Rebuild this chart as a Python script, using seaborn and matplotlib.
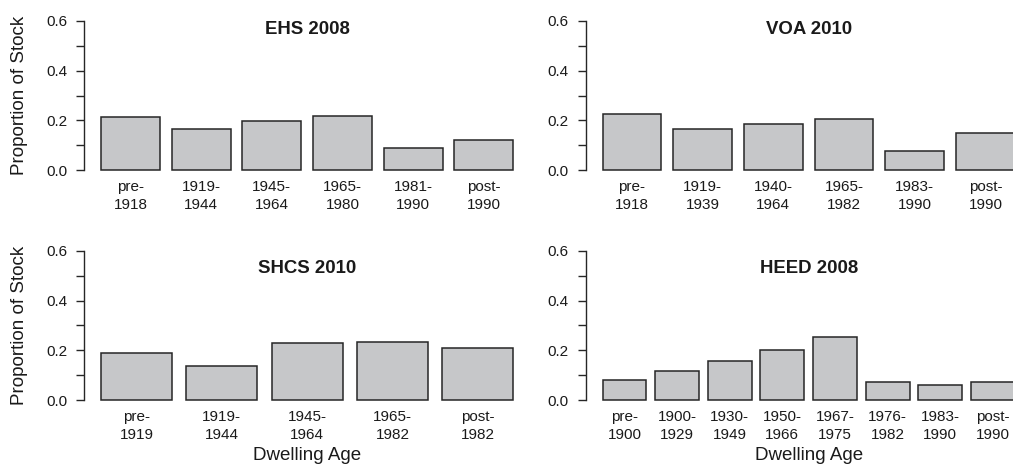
import numpy as np
import pandas as pd
import seaborn as sns
import matplotlib
matplotlib.use("Agg")
import matplotlib.pyplot as plt

# data
ehs_labels = ["pre-\n1918", "1919-\n1944", "1945-\n1964", "1965-\n1980", "1981-\n1990", "post-\n1990"]
ehs_values = [0.215, 0.165, 0.197, 0.217, 0.090, 0.122]

voa_labels = ["pre-\n1918", "1919-\n1939", "1940-\n1964", "1965-\n1982", "1983-\n1990", "post-\n1990"]
voa_values = [0.225, 0.165, 0.184, 0.207, 0.078, 0.149]

shcs_labels = ["pre-\n1919", "1919-\n1944", "1945-\n1964", "1965-\n1982", "post-\n1982"]
shcs_values = [0.189, 0.137, 0.229, 0.234, 0.211]

heed_labels = ["pre-\n1900", "1900-\n1929", "1930-\n1949", "1950-\n1966", "1967-\n1975",
               "1976-\n1982", "1983-\n1990", "post-\n1990"]
heed_values = [0.080, 0.118, 0.156, 0.201, 0.252, 0.071, 0.059, 0.071]

titles = ["EHS 2008", "VOA 2010", "SHCS 2010", "HEED 2008"]

sns.set_theme(style="white")
plt.rcParams['font.family'] = ['Liberation Sans', 'DejaVu Sans']
plt.rcParams['text.color'] = '#1a1a1a'

fig = plt.figure(figsize=(10.13, 4.68), dpi=100)

W = 0.4396
H = 0.344
positions = [(0.0834, 0.6239), (0.5785, 0.6239), (0.0834, 0.1325), (0.5785, 0.1325)]
panels = [(ehs_labels, ehs_values), (voa_labels, voa_values),
          (shcs_labels, shcs_values), (heed_labels, heed_values)]

for k, ((labels, values), (x0, y0)) in enumerate(zip(panels, positions)):
    ax = fig.add_axes([x0, y0, W, H])
    df = pd.DataFrame({'age': labels, 'prop': values})
    sns.barplot(data=df, x='age', y='prop', ax=ax, color='#c6c7c9', saturation=1,
                edgecolor='#262626', linewidth=1.1, width=1 / 1.2)

    # R barplot style x range (space = 0.2, 4% padding)
    n = len(labels)
    span = 1.2 * n - 0.2
    ax.set_xlim((0.2 - 0.04 * span - 0.7) / 1.2, (1.2 * n + 0.04 * span - 0.7) / 1.2)
    ax.set_ylim(-0.024, 0.624)

    ax.set_yticks(np.arange(0, 0.61, 0.1))
    ax.set_yticklabels(['0.0', '', '0.2', '', '0.4', '', '0.6'])
    for s in ['top', 'right', 'bottom']:
        ax.spines[s].set_visible(False)
    ax.spines['left'].set_bounds(0, 0.6)
    ax.spines['left'].set_color('#262626')
    ax.spines['left'].set_linewidth(1.0)
    ax.tick_params(axis='y', length=5.8, width=1.0, color='#262626', pad=6.5,
                   labelsize=11, labelcolor='#1a1a1a', left=True)
    ax.tick_params(axis='x', length=0, pad=3, labelsize=11, labelcolor='#1a1a1a')
    for t in ax.get_xticklabels():
        t.set_linespacing(1.35)

    ty = 0.882 if k < 2 else 0.828
    ax.set_title(titles[k], fontsize=13.4, fontweight='bold', y=ty, pad=0, color='#1a1a1a')

    if k % 2 == 0:
        ax.set_ylabel('Proportion of Stock', fontsize=13.5, color='#1a1a1a', va='center')
        ax.yaxis.set_label_coords(-0.147, 0.5)
    else:
        ax.set_ylabel('')
    if k >= 2:
        ax.set_xlabel('Dwelling Age', fontsize=13.5, color='#1a1a1a')
        ax.xaxis.set_label_coords(0.5, -0.255)
    else:
        ax.set_xlabel('')

fig.savefig('out.png', dpi=100)
